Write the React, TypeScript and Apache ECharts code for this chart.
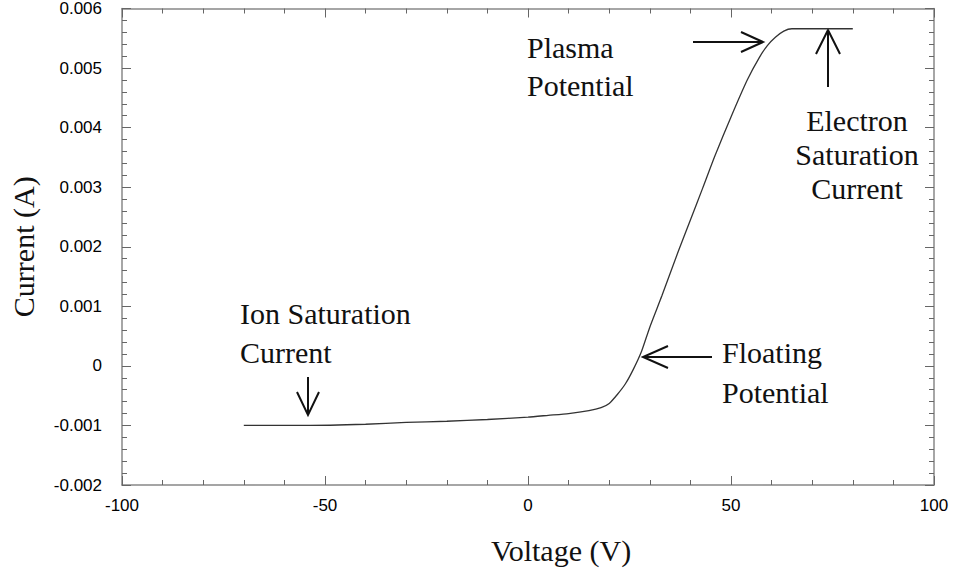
import React, { useEffect, useRef } from "react";
import * as echarts from "echarts";

const voltage = [-70, -55, -40, -30, -20, -10, 0, 5, 10, 15, 18, 20, 22, 24, 26, 28, 30, 33, 37, 40, 43, 46, 50, 54, 57, 59, 61, 63, 65, 70, 75, 80];
const current = [-0.001, -0.001, -0.00098, -0.00095, -0.00093, -0.0009, -0.00086, -0.00083, -0.0008, -0.00075, -0.0007, -0.00063, -0.00048, -0.0003, -0.00005, 0.00025, 0.00065, 0.00118, 0.00192, 0.00245, 0.00298, 0.00352, 0.00418, 0.0048, 0.00518, 0.00538, 0.00552, 0.00562, 0.00566, 0.00566, 0.00566, 0.00566];

const xTitle = "Voltage (V)";
const yTitle = "Current (A)";

const SERIF = "'Liberation Serif', 'Times New Roman', serif";
const SANS = "'Liberation Sans', Arial, sans-serif";

export default function App() {
  const ref = useRef<HTMLDivElement>(null);
  useEffect(() => {
    document.body.style.margin = "0";
    const chart = echarts.init(ref.current!, null, { renderer: "svg" });
    const axisLine = { show: true, onZero: false, lineStyle: { color: "#888", width: 1.5 } };
    const axisTick = { show: true, inside: true, length: 9, lineStyle: { color: "#666", width: 1 } };
    const minorTick = { show: true, splitNumber: 5, length: 5, lineStyle: { color: "#666", width: 1 } };
    const labelStyle = { fontFamily: SANS, fontSize: 17, color: "#000" };
    const text = (x: number, y: number, t: string, align = "left") => ({
      type: "text",
      x,
      y,
      style: { text: t, font: `30px ${SERIF}`, fill: "#111", textAlign: align, textVerticalAlign: "middle" },
    });
    const line = (x1: number, y1: number, x2: number, y2: number) => ({
      type: "line",
      shape: { x1, y1, x2, y2 },
      style: { stroke: "#111", lineWidth: 2 },
    });
    const head = (pts: number[][]) => ({
      type: "polyline",
      shape: { points: pts },
      style: { stroke: "#111", lineWidth: 2, fill: null },
    });
    chart.setOption({
      animation: false,
      grid: { left: 121, right: 19, top: 6, bottom: 84 },
      xAxis: [
        {
          type: "value", min: -100, max: 100, interval: 50, position: "bottom",
          axisLine, axisTick, minorTick,
          splitLine: { show: false },
          axisLabel: { ...labelStyle, margin: 12 },
          name: xTitle, nameLocation: "middle", nameGap: 50,
          nameTextStyle: { fontFamily: SERIF, fontSize: 30, color: "#111", padding: [0, 0, 0, 66] },
        },
        {
          type: "value", min: -100, max: 100, interval: 50, position: "top",
          axisLine, axisTick, minorTick,
          splitLine: { show: false },
          axisLabel: { show: false },
        },
      ],
      yAxis: [
        {
          type: "value", min: -0.002, max: 0.006, interval: 0.001, position: "left",
          axisLine, axisTick, minorTick,
          splitLine: { show: false },
          axisLabel: { ...labelStyle, margin: 20 },
          name: yTitle, nameLocation: "middle", nameGap: 84,
          nameTextStyle: { fontFamily: SERIF, fontSize: 30, color: "#111" },
        },
        {
          type: "value", min: -0.002, max: 0.006, interval: 0.001, position: "right",
          axisLine, axisTick, minorTick,
          splitLine: { show: false },
          axisLabel: { show: false },
        },
      ],
      series: [
        {
          type: "line",
          data: voltage.map((v, i) => [v, current[i]]),
          showSymbol: false,
          smooth: 0.2,
          lineStyle: { color: "#333", width: 1.3 },
          xAxisIndex: 0,
          yAxisIndex: 0,
        },
      ],
      graphic: [
        text(527, 47, "Plasma"),
        text(527, 85, "Potential"),
        line(693, 42, 762, 42),
        head([[741, 32], [763, 42], [741, 52]]),
        text(857, 120, "Electron", "center"),
        text(857, 154, "Saturation", "center"),
        text(857, 188, "Current", "center"),
        line(828, 31, 828, 87),
        head([[816, 54], [828, 30], [840, 54]]),
        text(722, 352, "Floating"),
        text(722, 392, "Potential"),
        line(644, 357, 712, 357),
        head([[668, 346], [643, 357], [668, 368]]),
        text(240, 313, "Ion Saturation"),
        text(240, 352, "Current"),
        line(308, 377, 308, 414),
        head([[297, 392], [308, 415], [319, 392]]),
      ],
    });
    return () => chart.dispose();
  }, []);
  return <div ref={ref} style={{ width: 953, height: 570 }} />;
}
